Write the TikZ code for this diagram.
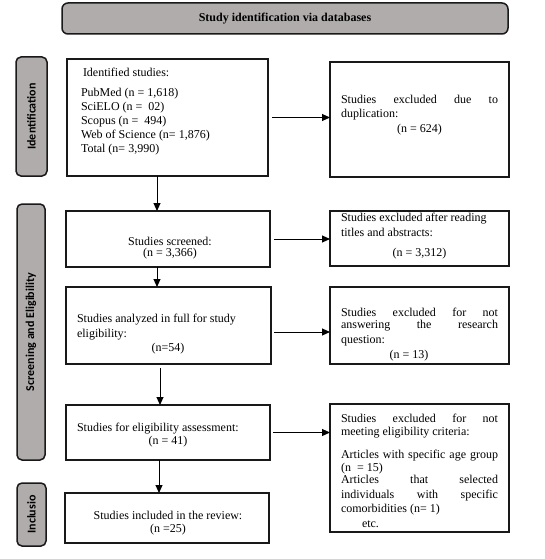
\documentclass[tikz,border=0pt]{standalone}
\usepackage{fontspec}
\setmainfont{Liberation Serif}
\newfontfamily\sidefont{Carlito}
\usetikzlibrary{arrows.meta}
\definecolor{hdrgray}{RGB}{176,172,171}
\definecolor{edgedark}{RGB}{25,25,25}
\newcommand{\jl}[1]{\leavevmode\hbox to 157pt{#1}}
\begin{document}
\begin{tikzpicture}[x=1pt,y=-1pt,
  every node/.style={inner sep=0pt, outer sep=0pt},
  box/.style={draw=edgedark, line width=1.2pt, rectangle, anchor=north west},
  hdr/.style={draw=edgedark, fill=hdrgray, line width=1.5pt, rounded corners=6pt,
    font=\bfseries\fontsize{12}{14}\selectfont},
  side/.style={draw=edgedark, fill=hdrgray, line width=1.5pt, rounded corners=5pt,
    rotate=90, font=\sidefont\bfseries\fontsize{12}{14}\selectfont},
  txt/.style={font=\fontsize{12}{14}\selectfont, align=flush left, text width=200pt, anchor=base west},
  ctxt/.style={font=\fontsize{12}{14}\selectfont, align=flush center, text width=200pt, anchor=base},
  rtxt/.style={txt, text width=175pt},
  arr/.style={draw=black, line width=1pt, -{Triangle[length=8pt,width=7pt]}}
]
\useasboundingbox (0,0) rectangle (544,559);

% header and side labels
\node[hdr, minimum width=446pt, minimum height=31pt] (hdr) at (285,18.5) {Study identification via databases};
\node[side, minimum width=119pt, minimum height=31pt] (sid) at (31.5,116.5) {Identification};
\node[side, minimum width=256pt, minimum height=28pt] (sscr) at (31,332) {Screening and Eligibility};
\node[side, minimum width=63pt, minimum height=29pt] (sinc) at (31.5,514.5) {Inclusio};

% boxes
\node[box, minimum width=201pt, minimum height=117pt] (b1) at (67,59) {};
\node[box, minimum width=179pt, minimum height=115pt] (r1) at (330,62) {};
\node[box, minimum width=204pt, minimum height=56pt] (b2) at (66,211) {};
\node[box, minimum width=179pt, minimum height=55pt] (r2) at (330,211) {};
\node[box, minimum width=205pt, minimum height=77pt] (b3) at (66,287) {};
\node[box, minimum width=179pt, minimum height=77pt] (r3) at (330,287) {};
\node[box, minimum width=204pt, minimum height=55pt] (b4) at (66,405) {};
\node[box, minimum width=179pt, minimum height=128pt] (r4) at (330,404) {};
\node[box, minimum width=204pt, minimum height=50pt] (b5) at (65,493) {};

% texts
\node[txt] (t1) at (81,77) {\hspace*{2pt}Identified studies:\\[6pt]
  PubMed (n = 1,618)\\
  SciELO (n = \ 02)\\
  Scopus (n = \ 494)\\
  Web of Science (n= 1,876)\\
  Total (n= 3,990)};
\node[rtxt] (tr1) at (341,103) {\jl{Studies\hfill excluded\hfill due\hfill to}\\
  duplication:\\[1pt]
  \makebox[157pt]{(n = 624)}};
\node[ctxt] (t2) at (170,245) {Studies screened:\\[-3pt](n = 3,366)};
\node[rtxt] (tr2) at (341,221) {Studies excluded after reading\\[1pt]
  titles and abstracts:\\[6pt]
  \makebox[157pt]{(n = 3,312)}};
\node[txt] (t3) at (77,322) {Studies analyzed in full for study\\[1pt]
  eligibility:\\
  \makebox[182pt]{(n=54)}};
\node[rtxt] (tr3) at (341,316) {\jl{Studies\hfill excluded\hfill for\hfill not}\\[-2pt]
  \jl{answering\hfill the\hfill research}\\[1pt]
  question:\\[1pt]
  \makebox[136pt]{(n = 13)}};
\node[txt] (t4) at (77,431) {Studies for eligibility assessment:\\[-1pt]
  \makebox[182pt]{(n = 41)}};
\node[rtxt] (tr4) at (341,422) {\jl{Studies\hfill excluded\hfill for\hfill not}\\[-1pt]
  meeting eligibility criteria:\\[9pt]
  \jl{Articles\hfill with\hfill specific\hfill age\hfill group}\\[-1pt]
  (n \ = 15)\\[-2pt]
  \jl{Articles\hfill that\hfill selected}\\[1pt]
  \jl{individuals\hfill with\hfill specific}\\
  comorbidities (n= 1)\\[1pt]
  \hspace*{21pt}etc.};
\node[ctxt] (t5) at (168,519) {Studies included in the review:\\[-1pt](n =25)};

% horizontal arrows
\draw[arr, shorten <=4pt] (b1.east) -- (r1.west |- b1.east);
\draw[arr, shorten <=4pt] (b2.east) -- (r2.west |- b2.east);
\coordinate (a3) at ([yshift=-6.5pt]b3.east);
\draw[arr, shorten <=3pt] (a3) -- (a3 -| r3.west);
\draw[arr, shorten <=3pt] (b4.east) -- (r4.west |- b4.east);

% vertical arrows
\coordinate (v1) at ([xshift=90pt]b1.south west);
\draw[arr] (v1) -- (v1 |- b2.north);
\coordinate (v2) at ([xshift=91pt]b2.south west);
\draw[arr] (v2) -- (v2 |- b3.north);
\coordinate (v3) at ([xshift=94pt]b3.south west);
\draw[arr, shorten <=4pt] (v3) -- (v3 |- b4.north);
\coordinate (v4) at ([xshift=93pt]b4.south west);
\draw[arr] (v4) -- (v4 |- b5.north);
\end{tikzpicture}
\end{document}
